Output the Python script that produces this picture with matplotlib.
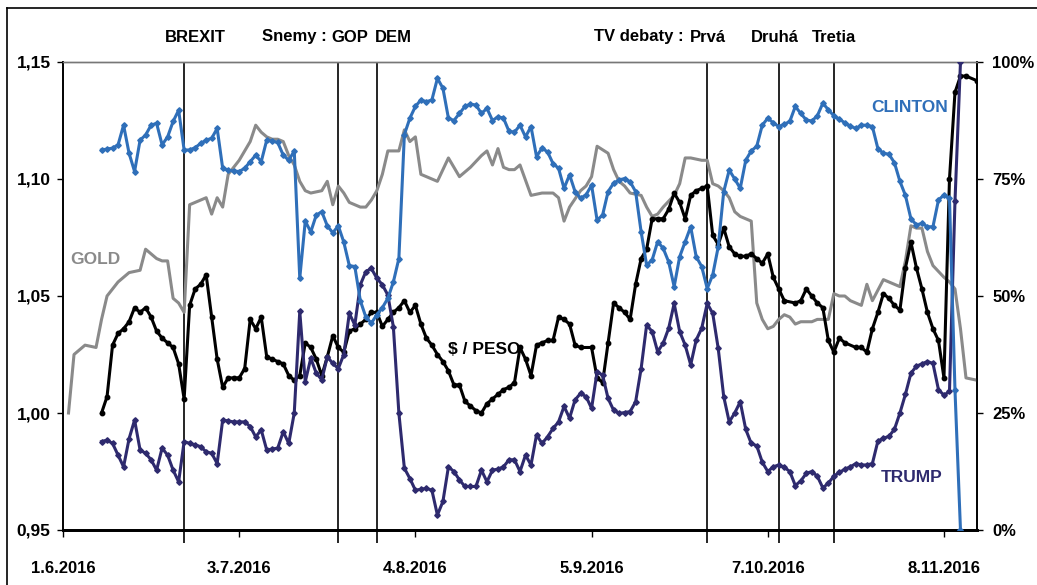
import pandas as pd
import matplotlib
matplotlib.use("Agg")
import matplotlib.pyplot as plt
from matplotlib.lines import Line2D
from matplotlib.ticker import FuncFormatter

# days counted from 1.6.2016
gold_day = [1, 2, 3, 4, 6, 7, 8, 9, 10, 11, 12, 14, 15, 16, 17, 18, 19, 20, 21, 22, 23, 24, 25, 26, 27, 28, 29, 30,
            31, 32, 33, 34, 35, 36, 37, 38, 39, 40, 41, 42, 43, 44, 45, 47, 48, 49, 50, 51, 52, 54, 55, 56, 57, 58,
            59, 60, 61, 62, 63, 64, 65, 66, 67, 68, 70, 72, 74, 76, 77, 78, 79, 80, 81, 82, 83, 85, 87, 89, 90, 91,
            92, 94, 95, 96, 97, 99, 100, 101, 102, 103, 105, 106, 107, 108, 109, 111, 112, 113, 114, 116, 117, 118,
            119, 120, 121, 122, 123, 124, 125, 126, 127, 128, 129, 130, 131, 132, 133, 134, 136, 137, 139, 140, 141,
            142, 143, 145, 146, 147, 149, 150, 152, 153, 154, 155, 156, 157, 158, 160, 161, 162, 163, 164, 166]
gold_val = [1.000, 1.025, 1.027, 1.029, 1.028, 1.040, 1.050, 1.053, 1.056, 1.058, 1.060, 1.061, 1.070, 1.068, 1.066,
            1.065, 1.065, 1.049, 1.047, 1.043, 1.089, 1.090, 1.091, 1.092, 1.085, 1.092, 1.088, 1.102, 1.105, 1.108,
            1.112, 1.116, 1.123, 1.120, 1.118, 1.117, 1.117, 1.116, 1.110, 1.106, 1.099, 1.095, 1.094, 1.095, 1.099,
            1.089, 1.097, 1.094, 1.090, 1.088, 1.088, 1.091, 1.095, 1.102, 1.112, 1.112, 1.112, 1.121, 1.116, 1.118,
            1.102, 1.101, 1.100, 1.099, 1.109, 1.101, 1.105, 1.110, 1.112, 1.106, 1.113, 1.105, 1.104, 1.104, 1.106,
            1.093, 1.094, 1.094, 1.092, 1.082, 1.088, 1.095, 1.097, 1.101, 1.114, 1.111, 1.104, 1.099, 1.097, 1.094,
            1.093, 1.088, 1.084, 1.085, 1.088, 1.093, 1.098, 1.109, 1.109, 1.108, 1.108, 1.098, 1.097, 1.095, 1.092,
            1.086, 1.084, 1.083, 1.082, 1.047, 1.040, 1.036, 1.037, 1.040, 1.042, 1.041, 1.038, 1.039, 1.039, 1.040,
            1.040, 1.051, 1.050, 1.050, 1.048, 1.046, 1.055, 1.048, 1.057, 1.056, 1.054, 1.065, 1.080, 1.079, 1.079,
            1.069, 1.063, 1.058, 1.056, 1.053, 1.036, 1.015, 1.014]

peso_day = [7, 8, 9, 10, 11, 12, 13, 14, 15, 16, 17, 18, 19, 20, 21, 22, 23, 24, 25, 26, 27, 28, 29, 30, 31, 32, 33,
            34, 35, 36, 37, 38, 39, 40, 41, 42, 43, 44, 45, 46, 47, 48, 49, 50, 51, 52, 53, 54, 55, 56, 57, 58, 59,
            60, 61, 62, 63, 64, 65, 66, 67, 68, 69, 70, 71, 72, 73, 74, 75, 76, 77, 78, 79, 80, 81, 82, 83, 84, 85,
            86, 87, 88, 89, 90, 91, 92, 93, 94, 96, 97, 98, 99, 100, 101, 102, 103, 104, 105, 106, 107, 108, 109,
            110, 111, 112, 113, 114, 115, 116, 117, 118, 119, 120, 121, 122, 123, 124, 125, 126, 127, 128, 129, 130,
            131, 133, 134, 135, 136, 137, 138, 139, 140, 141, 142, 144, 145, 146, 147, 148, 149, 150, 151, 152, 153,
            154, 155, 156, 157, 158, 159, 160, 161, 162, 163, 164, 166]
peso_val = [1.000, 1.007, 1.029, 1.034, 1.036, 1.039, 1.045, 1.043, 1.045, 1.041, 1.035, 1.032, 1.030, 1.028, 1.021,
            1.006, 1.046, 1.053, 1.055, 1.059, 1.041, 1.023, 1.011, 1.015, 1.015, 1.015, 1.019, 1.040, 1.036, 1.041,
            1.024, 1.023, 1.022, 1.021, 1.016, 1.014, 1.016, 1.030, 1.028, 1.023, 1.016, 1.024, 1.033, 1.028, 1.026,
            1.035, 1.036, 1.038, 1.040, 1.043, 1.043, 1.037, 1.040, 1.043, 1.045, 1.048, 1.043, 1.046, 1.038, 1.032,
            1.029, 1.025, 1.022, 1.018, 1.012, 1.012, 1.005, 1.003, 1.001, 1.000, 1.004, 1.006, 1.008, 1.010, 1.011,
            1.013, 1.028, 1.023, 1.016, 1.029, 1.030, 1.031, 1.031, 1.041, 1.040, 1.038, 1.029, 1.028, 1.028, 1.015,
            1.013, 1.030, 1.047, 1.045, 1.043, 1.040, 1.055, 1.066, 1.070, 1.083, 1.083, 1.083, 1.087, 1.094, 1.090,
            1.083, 1.093, 1.095, 1.096, 1.097, 1.076, 1.072, 1.079, 1.071, 1.068, 1.067, 1.067, 1.068, 1.066, 1.064,
            1.068, 1.058, 1.053, 1.048, 1.047, 1.048, 1.053, 1.050, 1.047, 1.045, 1.031, 1.026, 1.032, 1.030, 1.028,
            1.028, 1.026, 1.036, 1.043, 1.051, 1.049, 1.046, 1.044, 1.062, 1.073, 1.062, 1.053, 1.043, 1.036, 1.031,
            1.015, 1.100, 1.137, 1.144, 1.144, 1.142]

clinton_day = list(range(7, 164))
clinton_pct = [81.2, 81.4, 81.6, 82.3, 86.5, 80.5, 76.6, 83.3, 84.4, 86.5, 86.9, 82.3, 84.0, 87.3, 89.7, 81.2, 81.2,
               81.7, 82.6, 83.3, 83.7, 85.8, 77.3, 76.9, 76.7, 76.6, 77.3, 78.7, 80.1, 78.7, 83.3, 83.1, 82.8, 80.1,
               79.0, 81.0, 53.8, 66.0, 63.7, 67.3, 68.0, 65.0, 63.5, 65.0, 61.5, 56.5, 56.3, 49.0, 45.5, 44.2, 46.0,
               47.5, 49.5, 53.0, 58.0, 84.5, 88.0, 90.5, 91.9, 91.5, 91.9, 96.5, 94.4, 88.0, 87.5, 89.0, 90.5, 91.0,
               90.8, 89.0, 90.1, 87.5, 88.3, 88.0, 85.2, 85.0, 86.5, 84.0, 86.2, 79.8, 81.6, 80.8, 78.3, 77.3, 73.0,
               75.9, 72.3, 70.9, 71.6, 73.7, 66.2, 67.3, 72.3, 74.1, 74.8, 75.1, 74.4, 72.3, 63.7, 56.6, 57.7, 61.6,
               60.2, 57.3, 52.0, 58.4, 61.6, 64.8, 58.4, 56.3, 51.6, 54.5, 60.5, 72.3, 76.9, 75.0, 73.0, 79.0, 81.0,
               82.0, 86.5, 88.0, 87.0, 86.2, 86.7, 87.3, 90.5, 89.0, 87.6, 87.4, 88.5, 91.2, 89.8, 88.5, 87.8, 87.0,
               86.3, 85.8, 86.5, 86.5, 86.2, 81.5, 80.5, 80.3, 78.5, 74.5, 71.5, 66.5, 65.2, 65.5, 64.8, 64.8, 70.5,
               71.6, 70.9, 29.9, 0.0]

trump_day = list(range(7, 164))
trump_pct = [18.9, 19.2, 18.5, 16.0, 13.5, 19.5, 23.5, 17.1, 16.4, 15.0, 12.8, 17.5, 16.0, 12.8, 10.3, 18.9, 18.5,
             18.2, 17.8, 16.7, 16.4, 14.2, 23.5, 23.3, 23.1, 23.1, 23.1, 22.1, 19.9, 21.4, 17.1, 17.3, 17.5, 21.0,
             18.5, 25.0, 46.7, 31.7, 36.7, 33.5, 32.1, 37.0, 35.6, 34.5, 37.5, 46.3, 43.8, 52.4, 55.2, 55.9, 53.8,
             52.4, 50.2, 43.4, 25.0, 13.2, 11.0, 8.5, 8.7, 8.9, 8.5, 3.2, 6.1, 13.5, 12.5, 10.7, 9.3, 9.3, 9.3, 12.8,
             10.3, 12.8, 13.0, 13.5, 15.0, 15.0, 12.5, 16.0, 13.9, 20.3, 18.5, 19.9, 21.7, 23.1, 26.4, 23.9, 27.8,
             29.2, 28.5, 26.0, 33.8, 33.1, 28.1, 25.6, 24.9, 25.1, 25.3, 27.4, 34.5, 43.8, 42.4, 38.1, 39.9, 43.1,
             48.4, 42.4, 39.5, 35.3, 40.6, 43.1, 48.4, 46.3, 38.8, 28.5, 23.1, 25.0, 27.4, 21.5, 18.5, 18.0, 14.5,
             12.5, 13.5, 13.9, 13.4, 12.5, 9.5, 10.5, 12.1, 12.5, 11.5, 9.0, 10.0, 11.5, 12.3, 13.0, 13.5, 14.2, 13.9,
             13.9, 14.2, 19.0, 19.6, 20.0, 21.5, 25.0, 29.0, 33.5, 35.0, 35.5, 36.0, 35.6, 30.0, 28.8, 29.6, 70.2,
             100.0]

events = ["2016-06-23", "2016-07-21", "2016-07-28", "2016-09-26", "2016-10-09", "2016-10-19"]

start = pd.Timestamp("2016-06-01")


def to_dates(days):
    return start + pd.to_timedelta(days, unit="D")


plt.rcParams["font.family"] = ["Liberation Sans", "DejaVu Sans"]
plt.rcParams["font.weight"] = "bold"

W, H = 1037, 585
fig = plt.figure(figsize=(W / 100, H / 100), dpi=100)
ax = fig.add_axes([63 / W, 1 - 530 / H, (977 - 63) / W, (530 - 62) / H])
ax2 = ax.twinx()

gold_c = "#8a8a8a"
blue_c = "#2f6fb9"
purple_c = "#2e2a6e"

ax.plot(to_dates(gold_day), gold_val, color=gold_c, lw=2.2, zorder=3)
ax.plot(to_dates(peso_day), peso_val, color="black", lw=2.2, marker="o", ms=3.2, zorder=4)
ax2.plot(to_dates(trump_day), trump_pct, color=purple_c, lw=2.2, marker="D", ms=2.8, zorder=3)
ax2.plot(to_dates(clinton_day), clinton_pct, color=blue_c, lw=2.2, marker="D", ms=2.8, zorder=4)

# event lines, reaching a bit below the x axis
for e in events:
    ax.vlines(pd.Timestamp(e), -0.028, 1, transform=ax.get_xaxis_transform(),
              colors="black", lw=1.2, clip_on=False, zorder=2)

ax.set_xlim(start, start + pd.Timedelta(days=166))
ax.set_ylim(0.95, 1.15)
ax2.set_ylim(0, 100)

xt = [start + pd.Timedelta(days=32 * k) for k in range(6)]
ax.set_xticks(xt)
ax.set_xticklabels([f"{d.day}.{d.month}.{d.year}" for d in xt])
ax.set_yticks([0.95, 1.00, 1.05, 1.10, 1.15])
ax.yaxis.set_major_formatter(FuncFormatter(lambda v, p: f"{v:.2f}".replace(".", ",")))
ax2.set_yticks([0, 25, 50, 75, 100])
ax2.yaxis.set_major_formatter(FuncFormatter(lambda v, p: f"{v:.0f}%"))

ax.tick_params(axis="x", direction="out", length=5, width=1, pad=17, labelsize=12)
ax.tick_params(axis="y", direction="out", length=4, width=1, pad=5, labelsize=12.5)
ax2.tick_params(axis="y", direction="out", length=4, width=1, pad=7, labelsize=12)

for a in (ax, ax2):
    a.spines["top"].set_color("#777777")
    a.spines["top"].set_linewidth(1)
    a.spines["left"].set_linewidth(1.2)
    a.spines["right"].set_linewidth(1.2)
    a.spines["bottom"].set_linewidth(2)

# event labels above the plot
fs = 12
ty = 1 - 37 / H
for txt, cx in [("BREXIT", 195), ("Snemy :", 294), ("GOP", 350), ("DEM", 393),
                ("TV debaty :", 639), ("Prvá", 708), ("Druhá", 775), ("Tretia", 834)]:
    fig.text(cx / W, ty, txt, ha="center", va="center", fontsize=fs)

# series labels
fig.text(95 / W, 1 - 260 / H, "GOLD", color=gold_c, ha="center", va="center", fontsize=12.5)
fig.text(484 / W, 1 - 350 / H, "$ / PESO", color="black", ha="center", va="center", fontsize=12.5)
fig.text(910 / W, 1 - 107 / H, "CLINTON", color=blue_c, ha="center", va="center", fontsize=12.5)
fig.text(912 / W, 1 - 478 / H, "TRUMP", color=purple_c, ha="center", va="center", fontsize=12.5)

# outer frame (left and top edges visible)
fig.add_artist(Line2D([7 / W, 7 / W], [0, 1 - 8 / H], color="black", lw=1.2, transform=fig.transFigure))
fig.add_artist(Line2D([7 / W, 1], [1 - 8 / H, 1 - 8 / H], color="black", lw=1.2, transform=fig.transFigure))

fig.savefig("out.png", dpi=100)
